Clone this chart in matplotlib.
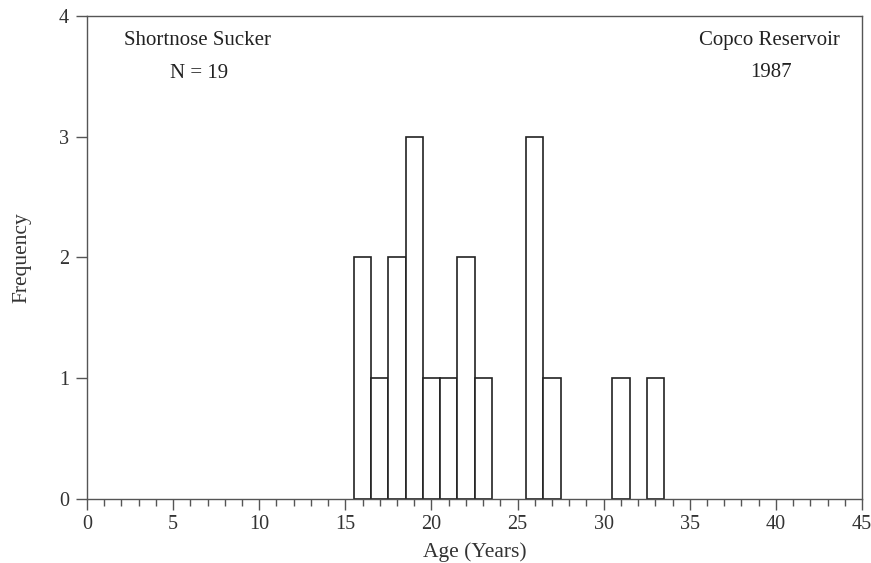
import matplotlib.pyplot as plt
from matplotlib.ticker import MultipleLocator

ages = [16, 17, 18, 19, 20, 21, 22, 23, 26, 27, 31, 33]
counts = [2, 1, 2, 3, 1, 1, 2, 1, 3, 1, 1, 1]

plt.rcParams['font.family'] = ['Liberation Serif', 'DejaVu Serif']

fig = plt.figure(figsize=(8.71, 5.63), dpi=100)
ax = fig.add_axes([0.0999, 0.1137, 0.8898, 0.8579])

ax.bar(ages, counts, width=1.0, facecolor='white', edgecolor='#222222', linewidth=1.2)

ax.set_xlim(0, 45)
ax.set_ylim(0, 4)
ax.xaxis.set_major_locator(MultipleLocator(5))
ax.xaxis.set_minor_locator(MultipleLocator(1))
ax.yaxis.set_major_locator(MultipleLocator(1))
ax.tick_params(axis='both', which='major', direction='out', length=8, width=1, color='#555555',
               labelsize=14.5, labelcolor='#333333')
ax.tick_params(axis='y', which='major', pad=5)
ax.tick_params(axis='x', which='minor', direction='out', length=5, width=1, color='#555555')
for s in ax.spines.values():
    s.set_color('#555555')
    s.set_linewidth(1)

ax.set_xlabel('Age (Years)', fontsize=15.5, color='#333333', labelpad=6)
ax.set_ylabel('Frequency', fontsize=15.5, color='#333333', labelpad=20)

ax.text(0.142, 0.95, 'Shortnose Sucker', transform=ax.transAxes, ha='center', va='center',
        fontsize=15, color='#222222')
ax.text(0.145, 0.88, 'N = 19', transform=ax.transAxes, ha='center', va='center',
        fontsize=15, color='#222222')
ax.text(0.881, 0.95, 'Copco Reservoir', transform=ax.transAxes, ha='center', va='center',
        fontsize=15, color='#222222')
ax.text(0.882, 0.882, '1987', transform=ax.transAxes, ha='center', va='center',
        fontsize=15, color='#222222')

fig.savefig('out.png', dpi=100)
